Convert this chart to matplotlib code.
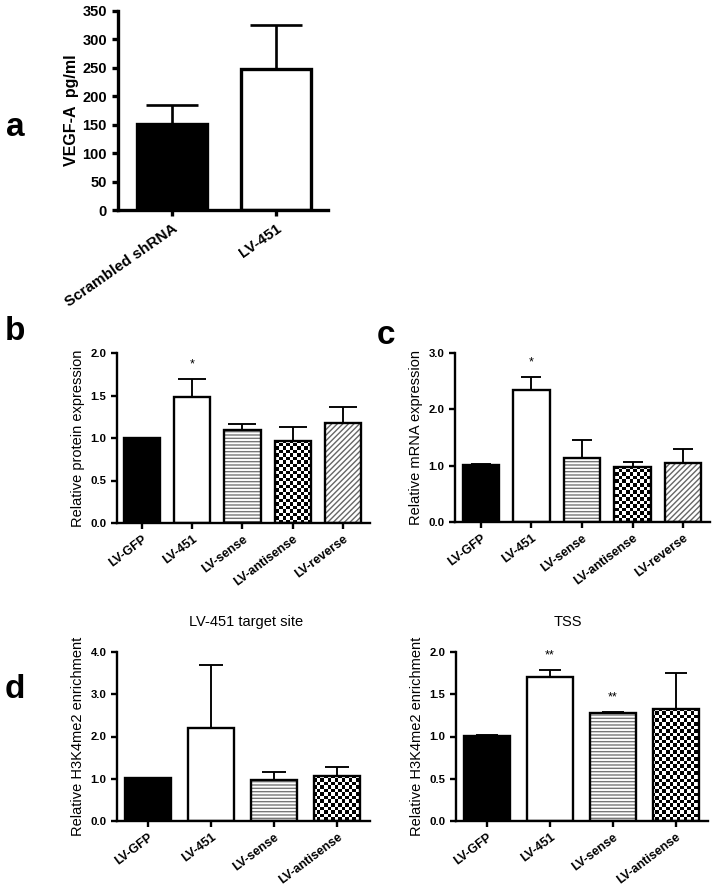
import numpy as np
import matplotlib
matplotlib.use("Agg")
import matplotlib.pyplot as plt

plt.rcParams['font.family'] = ['Liberation Sans', 'DejaVu Sans']
plt.rcParams['hatch.linewidth'] = 1.0

W, H = 713, 886

# panel a
a_groups = ['Scrambled shRNA', 'LV-451']
a_mean = [152, 248]
a_err = [32, 78]

# panel b (protein)
bc_groups = ['LV-GFP', 'LV-451', 'LV-sense', 'LV-antisense', 'LV-reverse']
b_mean = [1.0, 1.48, 1.09, 0.96, 1.18]
b_err = [0.0, 0.22, 0.07, 0.17, 0.19]
b_stars = ['', '*', '', '', '']

# panel c (mRNA)
c_mean = [1.01, 2.34, 1.13, 0.97, 1.05]
c_err = [0.02, 0.23, 0.32, 0.09, 0.25]
c_stars = ['', '*', '', '', '']

# panel d (H3K4me2)
d_groups = ['LV-GFP', 'LV-451', 'LV-sense', 'LV-antisense']
d1_mean = [1.02, 2.2, 0.97, 1.07]
d1_err = [0.0, 1.5, 0.2, 0.21]
d1_stars = ['', '', '', '']
d2_mean = [1.01, 1.71, 1.28, 1.32]
d2_err = [0.01, 0.08, 0.01, 0.43]
d2_stars = ['', '**', '**', '']

styles = ['solid', 'open', 'hlines', 'checker', 'diag']


def px_axes(l, t, r, b):
    return fig.add_axes([l / W, 1 - b / H, (r - l) / W, (b - t) / H])


def draw_bars(ax, means, errs, width, lw, capsize, nstyles):
    x = np.arange(len(means))
    ax.errorbar(x, means, yerr=[np.zeros(len(errs)), errs], fmt='none',
                ecolor='black', elinewidth=lw * 0.8, capsize=capsize,
                capthick=lw * 0.8, zorder=1)
    bbox = ax.get_position()
    wpx = bbox.width * W
    hpx = bbox.height * H
    for i, (xi, m) in enumerate(zip(x, means)):
        st = nstyles[i]
        fc = 'black' if st == 'solid' else 'white'
        base = ax.bar(xi, m, width, color=fc, edgecolor='none', zorder=2)[0]
        if st == 'hlines':
            ax.bar(xi, m, width, color='none', edgecolor='#777777',
                   hatch='-----', linewidth=0, zorder=2.2)
        elif st == 'diag':
            ax.bar(xi, m, width, color='none', edgecolor='#666666',
                   hatch='//////', linewidth=0, zorder=2.2)
        elif st == 'checker':
            # checkerboard fill clipped to the bar
            nc = int(round(wpx / 3.5))
            nr = int(round(hpx / 3.5))
            chk = np.indices((nr, nc)).sum(axis=0) % 2
            im = ax.imshow(chk, cmap='gray', extent=(0, 1, 0, 1),
                           transform=ax.transAxes, interpolation='nearest',
                           aspect='auto', zorder=2.1)
            im.set_clip_path(base)
        ax.bar(xi, m, width, color='none', edgecolor='black', linewidth=lw,
               zorder=3)
    return x


def style_axes(ax, lw, tick_len):
    for s in ['top', 'right']:
        ax.spines[s].set_visible(False)
    for s in ['left', 'bottom']:
        ax.spines[s].set_linewidth(lw)
    ax.tick_params(width=lw, length=tick_len)


fig = plt.figure(figsize=(W / 100, H / 100), dpi=100)

# ---- a ----
ax = px_axes(118, 11, 328, 210)
x = draw_bars(ax, a_mean, a_err, 0.67, 2.4, 19, ['solid', 'open'])
ax.set_xlim(-0.52, 1.5)
ax.set_ylim(0, 350)
ax.set_yticks(np.arange(0, 351, 50))
ax.set_xticks(x)
ax.set_xticklabels(a_groups, rotation=35, ha='right', rotation_mode='anchor',
                   fontsize=11, fontweight='bold')
for lab in ax.get_yticklabels():
    lab.set_fontsize(10.5)
    lab.set_fontweight('bold')
ax.set_ylabel('VEGF-A  pg/ml', fontsize=11.5, fontweight='bold', labelpad=2)
style_axes(ax, 2.4, 4.5)
fig.text(15 / W, 1 - 128 / H, 'a', fontsize=24, fontweight='bold',
         ha='center', va='center')


def small_panel(ax, groups, means, errs, stars, nstyles, ylim, yticks,
                yfmt, ylabel, capsize, xlim, title=None, title_x=0.5):
    x = draw_bars(ax, means, errs, 0.72, 1.7, capsize, nstyles)
    ax.set_xlim(*xlim)
    ax.set_ylim(*ylim)
    ax.set_yticks(yticks)
    ax.set_yticklabels([yfmt.format(v) for v in yticks], fontsize=8.2,
                       fontweight='bold')
    ax.set_xticks(x)
    ax.set_xticklabels(groups, rotation=37, ha='right', rotation_mode='anchor',
                       fontsize=9, fontweight='bold')
    ax.set_ylabel(ylabel, fontsize=10.5, labelpad=4)
    style_axes(ax, 1.7, 4)
    span = ylim[1] - ylim[0]
    for xi, m, e, s in zip(x, means, errs, stars):
        if s:
            ax.text(xi, m + e + span * 0.085, s, ha='center', va='center',
                    fontsize=9)
    if title:
        ax.set_title(title, fontsize=10.5, pad=19, x=title_x)


# ---- b ----
ax = px_axes(117, 353, 370, 523)
small_panel(ax, bc_groups, b_mean, b_err, b_stars, styles, (0, 2.0),
            [0, 0.5, 1.0, 1.5, 2.0], '{:.1f}', 'Relative protein expression',
            10, (-0.5, 4.54))
fig.text(15 / W, 1 - 332 / H, 'b', fontsize=24, fontweight='bold',
         ha='center', va='center')

# ---- c ----
ax = px_axes(455, 353, 710, 522)
small_panel(ax, bc_groups, c_mean, c_err, c_stars, styles, (0, 3.0),
            [0, 1.0, 2.0, 3.0], '{:.1f}', 'Relative mRNA expression',
            7, (-0.51, 4.53))
fig.text(386 / W, 1 - 335 / H, 'c', fontsize=24, fontweight='bold',
         ha='center', va='center')

# ---- d ----
ax = px_axes(117, 652, 370, 821)
small_panel(ax, d_groups, d1_mean, d1_err, d1_stars, styles[:4], (0, 4.0),
            [0, 1.0, 2.0, 3.0, 4.0], '{:.1f}',
            'Relative H3K4me2 enrichment', 8.5, (-0.49, 3.52),
            title='LV-451 target site', title_x=0.51)
fig.text(15 / W, 1 - 690 / H, 'd', fontsize=24, fontweight='bold',
         ha='center', va='center')

ax = px_axes(456, 652, 708, 821)
small_panel(ax, d_groups, d2_mean, d2_err, d2_stars, styles[:4], (0, 2.0),
            [0, 0.5, 1.0, 1.5, 2.0], '{:.1f}',
            'Relative H3K4me2 enrichment', 8, (-0.49, 3.51),
            title='TSS', title_x=0.445)

fig.savefig('out.png', dpi=100)
